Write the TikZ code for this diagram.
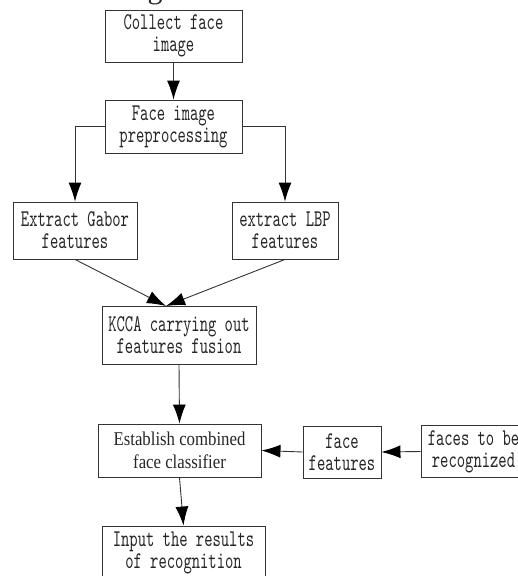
\documentclass[tikz,border=0pt]{standalone}
\usepackage{fontspec}
\setmainfont{Liberation Serif}
\newfontfamily\monof[FakeStretch=0.66]{lmmono10-regular.otf}
\newfontfamily\serifc[FakeStretch=0.86]{Liberation Serif}
\usetikzlibrary{arrows.meta,calc}
\begin{document}
\begin{tikzpicture}[x=1pt,y=-1pt,
  box/.style={draw=black!80,line width=0.9pt,align=center,inner sep=0pt,
    font=\monof\fontsize{24}{22}\selectfont,text=black!85},
  tbox/.style={box,font=\serifc\fontsize{19.5}{23}\selectfont},
  arr/.style={draw=black!80,line width=0.9pt,-{Latex[length=19pt,width=13pt,color=black]}}]
\useasboundingbox (0,0) rectangle (518,576);
\node[anchor=base,font=\fontsize{30}{30}\selectfont,text=black!85] (frag) at (155,-2) {g};
\node[box,minimum width=137pt,minimum height=52pt] (b1) at (173.5,36) {Collect face\\image};
\node[box,minimum width=137pt,minimum height=53pt] (b2) at (173.5,126.5) {Face image\\preprocessing};
\node[box,minimum width=124pt,minimum height=57pt] (b3) at (75,230.5) {Extract Gabor\\features};
\node[box,minimum width=106pt,minimum height=57pt] (b4) at (285,230.5) {extract LBP\\features};
\node[box,minimum width=154pt,minimum height=58pt] (b5) at (179,335) {KCCA carrying out\\features fusion};
\node[tbox,minimum width=163pt,minimum height=53pt] (b6) at (179.5,450.5) {Establish combined\\face classifier};
\node[box,minimum width=78pt,minimum height=52pt] (b7) at (342,452) {face\\features};
\node[box,minimum width=105pt,minimum height=52pt] (b8) at (473.5,451.5) {faces to be\\recognized};
\node[box,minimum width=163pt,minimum height=53pt] (b9) at (183.5,552.5) {Input the results\\of recognition};
\coordinate (m) at (166,306);
\draw[arr] (b1.south) -- (b2.north);
\draw[arr] (b2.west) -| (b3.north);
\draw[arr] (b2.east) -| (b4.north);
\draw[arr] (b3.south) -- (m);
\draw[arr] (b4.south) -- (m);
\draw[arr] (b5.south) -- (b6.north);
\draw[arr] (b8.west) -- (b7.east);
\draw[arr] (b7.west) -- (b6.east);
\draw[arr] (b6.south) -- (b9.north);
\end{tikzpicture}
\end{document}
